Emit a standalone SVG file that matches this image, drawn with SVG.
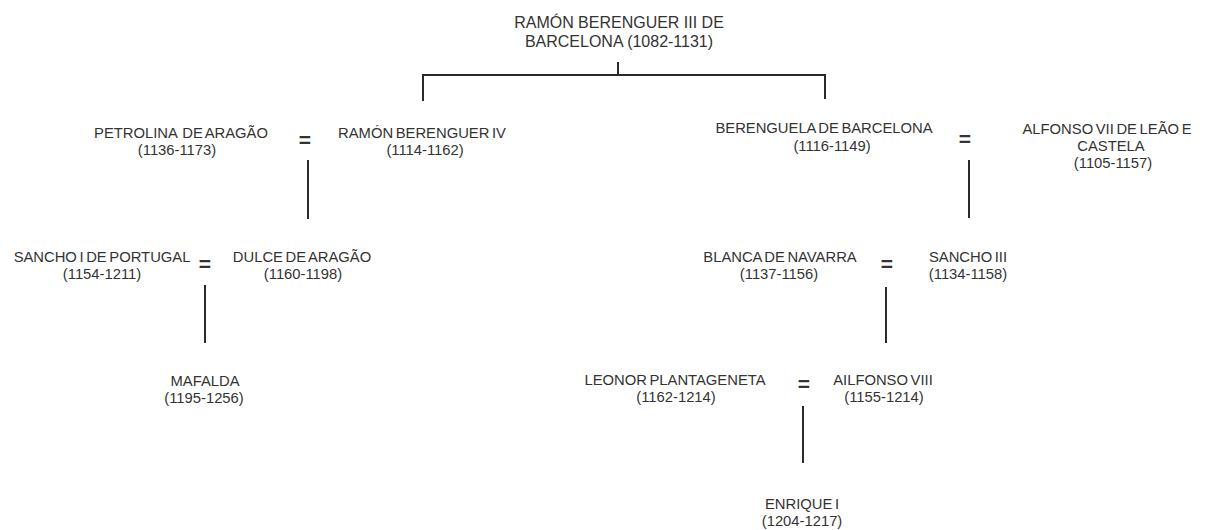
<svg xmlns="http://www.w3.org/2000/svg" width="1206" height="530" viewBox="0 0 1206 530">
<style>
text{font-family:"Liberation Sans",Arial,sans-serif;fill:#333;text-anchor:middle}
.t{font-size:16px}
.n{font-size:14.8px;word-spacing:-1.5px}
.eq{font-size:21px;font-weight:bold}
.c line{stroke:#2a2a2a;stroke-width:2}
</style>
<rect width="1206" height="530" fill="#fff"/>
<g class="c" id="connectors">
<line x1="618" y1="62" x2="618" y2="75"/>
<line x1="423" y1="75" x2="825" y2="75"/>
<line x1="423" y1="74" x2="423" y2="101"/>
<line x1="825" y1="74" x2="825" y2="99"/>
<line x1="308" y1="160" x2="308" y2="219"/>
<line x1="969" y1="160" x2="969" y2="218"/>
<line x1="205" y1="285" x2="205" y2="343"/>
<line x1="886" y1="287" x2="886" y2="343"/>
<line x1="803" y1="406" x2="803" y2="463"/>
</g>
<g id="ramon3"><text class="t" transform="translate(619,28) scale(1,1.08)">RAMÓN BERENGUER III DE</text><text class="t" transform="translate(619,47) scale(1,1.08)">BARCELONA (1082-1131)</text></g>
<g id="petrolina"><text class="n" transform="translate(181,138) scale(1,1.05)" xml:space="preserve">PETROLINA  DE ARAGÃO</text><text class="n" transform="translate(177,155) scale(1,1.05)">(1136-1173)</text></g>
<g id="eq1"><text class="eq" x="305" y="147">=</text></g>
<g id="ramon4"><text class="n" transform="translate(422,138) scale(1,1.05)">RAMÓN BERENGUER IV</text><text class="n" transform="translate(425,155) scale(1,1.05)">(1114-1162)</text></g>
<g id="berenguela"><text class="n" transform="translate(824,133) scale(1,1.05)">BERENGUELA DE BARCELONA</text><text class="n" transform="translate(832,151) scale(1,1.05)">(1116-1149)</text></g>
<g id="eq2"><text class="eq" x="965" y="146">=</text></g>
<g id="alfonso7"><text class="n" transform="translate(1107,134) scale(1,1.05)">ALFONSO VII DE LEÃO E</text><text class="n" transform="translate(1111,151) scale(1,1.05)">CASTELA</text><text class="n" transform="translate(1113,168) scale(1,1.05)">(1105-1157)</text></g>
<g id="sancho1"><text class="n" transform="translate(102,262) scale(1,1.05)">SANCHO I DE PORTUGAL</text><text class="n" transform="translate(102,279) scale(1,1.05)">(1154-1211)</text></g>
<g id="eq3"><text class="eq" x="205" y="271">=</text></g>
<g id="dulce"><text class="n" transform="translate(302,262) scale(1,1.05)">DULCE DE ARAGÃO</text><text class="n" transform="translate(303,279) scale(1,1.05)">(1160-1198)</text></g>
<g id="blanca"><text class="n" transform="translate(780,262) scale(1,1.05)">BLANCA DE NAVARRA</text><text class="n" transform="translate(779,279) scale(1,1.05)">(1137-1156)</text></g>
<g id="eq4"><text class="eq" x="887" y="271">=</text></g>
<g id="sancho3"><text class="n" transform="translate(968,262) scale(1,1.05)">SANCHO III</text><text class="n" transform="translate(968,279) scale(1,1.05)">(1134-1158)</text></g>
<g id="mafalda"><text class="n" transform="translate(205,386) scale(1,1.05)">MAFALDA</text><text class="n" transform="translate(204,403) scale(1,1.05)">(1195-1256)</text></g>
<g id="leonor"><text class="n" transform="translate(675,385) scale(1,1.05)">LEONOR PLANTAGENETA</text><text class="n" transform="translate(676,402) scale(1,1.05)">(1162-1214)</text></g>
<g id="eq5"><text class="eq" x="804" y="391">=</text></g>
<g id="alfonso8"><text class="n" transform="translate(883,385) scale(1,1.05)">AILFONSO VIII</text><text class="n" transform="translate(884,402) scale(1,1.05)">(1155-1214)</text></g>
<g id="enrique"><text class="n" transform="translate(802,509) scale(1,1.05)">ENRIQUE I</text><text class="n" transform="translate(802,526) scale(1,1.05)">(1204-1217)</text></g>
</svg>
